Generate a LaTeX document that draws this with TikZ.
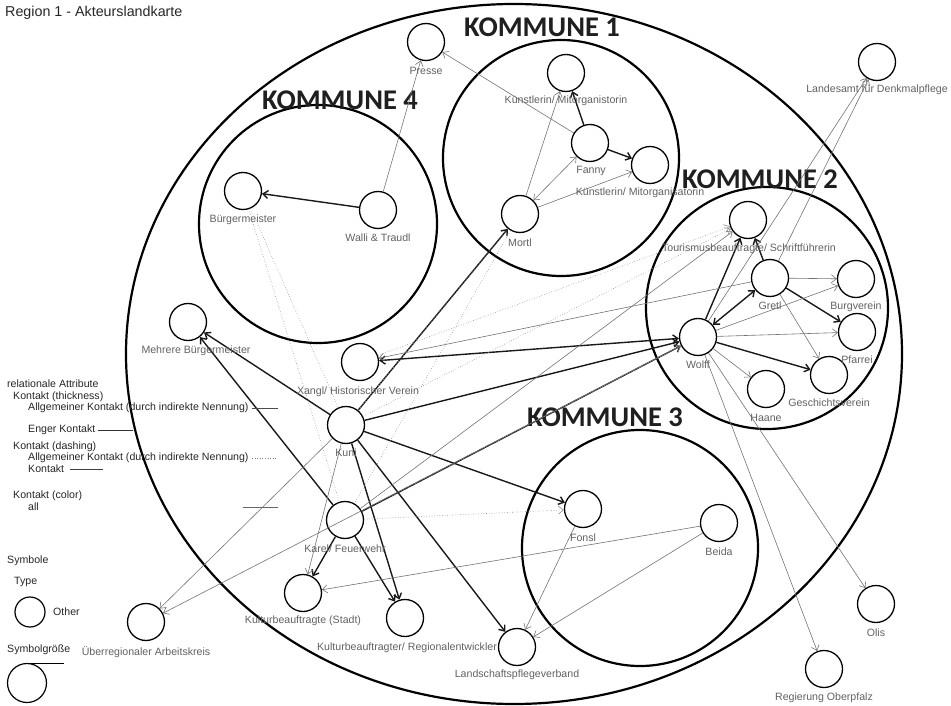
\documentclass[tikz,border=0pt]{standalone}
\usepackage{fontspec}
\setmainfont{Liberation Sans}
\newfontfamily\kommunefont{Carlito}
\usetikzlibrary{arrows.meta}
\begin{document}
\begin{tikzpicture}[x=1pt,y=-1pt,
  >={Straight Barb[length=5pt,width=8pt]},
  actor/.style={circle,draw=black,line width=1.3pt,minimum size=37pt,inner sep=0pt},
  lab/.style={text=black!62,font=\fontsize{10.6}{12}\selectfont,inner sep=0pt},
  leg/.style={text=black!85,font=\fontsize{10.6}{12}\selectfont,anchor=west,inner sep=0pt},
  area/.style={draw=black,line width=2.2pt},
  kname/.style={font=\kommunefont\bfseries\fontsize{28.5}{30}\selectfont,text=black!88,inner sep=0pt},
  strong/.style={->,line width=1.4pt,draw=black!90},
  weak/.style={->,line width=0.6pt,draw=black!55},
  hint/.style={->,line width=0.6pt,draw=black!45,dotted}
]
\useasboundingbox (0,0) rectangle (951,706);

% title
\node[anchor=west,inner sep=0pt,font=\fontsize{14.3}{16}\selectfont,text=black!85] (title) at (5,13) {Region 1 - Akteurslandkarte};

% region and municipalities
\draw[area] (514,354) ellipse [x radius=388, y radius=350];
\draw[area] (561,158) circle [radius=118];
\draw[area] (318,224) circle [radius=119];
\draw[area] (767,308) circle [radius=121];
\draw[area] (640,548) circle [radius=118];

\node[kname] (k1) at (542,27) {KOMMUNE 1};
\node[kname] (k4) at (340,100) {KOMMUNE 4};
\node[kname] (k2) at (760,179) {KOMMUNE 2};
\node[kname] (k3) at (605,417) {KOMMUNE 3};

% actors
\node[actor] (presse) at (426,42) {};
\node[actor] (kmt) at (566,73) {};
\node[actor] (fanny) at (590,143) {};
\node[actor] (kmr) at (650,165) {};
\node[actor] (mortl) at (520,214) {};
\node[actor] (buerg) at (243,191) {};
\node[actor] (walli) at (378,210) {};
\node[actor] (mehr) at (188,322) {};
\node[actor] (xangl) at (360,362) {};
\node[actor] (kuni) at (346,425) {};
\node[actor] (karel) at (345,520) {};
\node[actor] (kulturS) at (303,593) {};
\node[actor] (kulturR) at (405,618) {};
\node[actor] (lpv) at (517,647) {};
\node[actor] (fonsl) at (583,509) {};
\node[actor] (beida) at (719,523) {};
\node[actor] (olis) at (876,604) {};
\node[actor] (regierung) at (824,669) {};
\node[actor] (ueber) at (146,622) {};
\node[actor] (landesamt) at (877,62) {};
\node[actor] (tour) at (748,220) {};
\node[actor] (gretl) at (770,278) {};
\node[actor] (burg) at (856,279) {};
\node[actor] (pfarrei) at (857,332) {};
\node[actor] (wolff) at (698,337) {};
\node[actor] (gesch) at (829,375) {};
\node[actor] (haane) at (766,389) {};

% close contacts
\draw[strong] (fanny) -- (kmt);
\draw[strong] (fanny) -- (kmr);
\draw[strong] (walli) -- (buerg);
\draw[strong] (kuni) -- (mortl);
\draw[strong] (kuni) -- (mehr);
\draw[strong] (karel) -- (mehr);
\draw[strong] (kuni) -- (wolff);
\draw[strong] (karel) -- (wolff);
\draw[strong,<->] (xangl) -- (wolff);
\draw[strong] (kuni) -- (fonsl);
\draw[strong] (kuni) -- (lpv);
\draw[strong] (kuni) -- (kulturR);
\draw[strong] (karel) -- (kulturR);
\draw[strong] (karel) -- (kulturS);
\draw[strong] (wolff) -- (tour);
\draw[strong] (gretl) -- (tour);
\draw[strong,<->] (wolff) -- (gretl);
\draw[strong] (gretl) -- (pfarrei);
\draw[strong] (wolff) -- (gesch);

% general contacts
\draw[weak] (fanny) -- (presse);
\draw[weak] (walli) -- (presse);
\draw[weak] (mortl) -- (kmt);
\draw[weak,<->] (mortl) -- (fanny);
\draw[weak] (mortl) -- (kmr);
\draw[weak] (kuni) -- (kulturS);
\draw[weak] (beida) -- (kulturS);
\draw[weak] (beida) -- (lpv);
\draw[weak] (fonsl) -- (lpv);
\draw[weak] (wolff) -- (ueber);
\draw[weak] (kuni) -- (ueber);
\draw[weak] (wolff) -- (olis);
\draw[weak] (wolff) -- (regierung);
\draw[weak] (wolff) -- (landesamt);
\draw[weak] (gretl) -- (landesamt);
\draw[weak] (gretl) -- (xangl);
\draw[weak] (gretl) -- (burg);
\draw[weak] (gretl) -- (gesch);
\draw[weak] (wolff) -- (burg);
\draw[weak] (wolff) -- (pfarrei);
\draw[weak] (wolff) -- (haane);
\draw[weak] (karel) -- (tour);

% indirect mentions
\draw[hint,-] (buerg) -- (kuni);
\draw[hint,-] (buerg) -- (karel);
\draw[hint,-] (mortl) -- (kuni);
\draw[hint,-] (mortl) -- (karel);
\draw[hint] (kuni) -- (tour);
\draw[hint] (xangl) -- (tour);
\draw[hint] (karel) -- (fonsl);
\draw[hint] (karel) -- (wolff);

% actor names
\node[lab] (l-presse) at (426,71) {Presse};
\node[lab] (l-kmt) at (566,101) {Künstlerin/ Mitorganistorin};
\node[lab] (l-fanny) at (591,171) {Fanny};
\node[lab] (l-kmr) at (640,193) {Künstlerin/ Mitorganisatorin};
\node[lab] (l-mortl) at (520,243) {Mortl};
\node[lab] (l-buerg) at (243,220) {Bürgermeister};
\node[lab] (l-walli) at (378,238) {Walli \& Traudl};
\node[lab] (l-mehr) at (196,351) {Mehrere Bürgermeister};
\node[lab] (l-xangl) at (358,392) {Xangl/ Historischer Verein};
\node[lab] (l-kuni) at (346,453) {Kuni};
\node[lab] (l-karel) at (345,549) {Karel/ Feuerwehr};
\node[lab] (l-kulturS) at (303,621) {Kulturbeauftragte (Stadt)};
\node[lab] (l-kulturR) at (407,648) {Kulturbeauftragter/ Regionalentwickler};
\node[lab] (l-lpv) at (517,675) {Landschaftspflegeverband};
\node[lab] (l-fonsl) at (583,538) {Fonsl};
\node[lab] (l-beida) at (719,552) {Beida};
\node[lab] (l-olis) at (876,633) {Olis};
\node[lab] (l-regierung) at (824,698) {Regierung Oberpfalz};
\node[lab] (l-ueber) at (146,652) {Überregionaler Arbeitskreis};
\node[lab] (l-landesamt) at (877,90) {Landesamt für Denkmalpflege};
\node[lab] (l-tour) at (749,249) {Tourismusbeauftragte/ Schriftführerin};
\node[lab] (l-gretl) at (770,306) {Gretl};
\node[lab] (l-burg) at (856,307) {Burgverein};
\node[lab] (l-pfarrei) at (857,360) {Pfarrei};
\node[lab] (l-wolff) at (698,365) {Wolff};
\node[lab] (l-gesch) at (829,403) {Geschichtsverein};
\node[lab] (l-haane) at (766,418) {Haane};

% legend
\node[leg] (g1) at (7,384) {relationale Attribute};
\node[leg] (g2) at (13,397) {Kontakt (thickness)};
\node[leg] (g3) at (28,408) {Allgemeiner Kontakt (durch indirekte Nennung)};
\draw[line width=0.6pt,black!70] (252,408) -- (278,408);
\node[leg] (g4) at (28,430) {Enger Kontakt};
\draw[line width=0.9pt,black!80] (98,430) -- (133,430);
\node[leg] (g5) at (13,447) {Kontakt (dashing)};
\node[leg] (g6) at (28,458) {Allgemeiner Kontakt (durch indirekte Nennung)};
\draw[line width=0.6pt,black!50,dotted] (252,458) -- (277,458);
\node[leg] (g7) at (28,469) {Kontakt};
\draw[line width=0.8pt,black!75] (70,469) -- (103,469);
\node[leg] (g8) at (13,496) {Kontakt (color)};
\node[leg] (g9) at (28,507) {all};
\draw[line width=0.8pt,black!60] (243,507) -- (278,507);
\node[leg] (g10) at (7,561) {Symbole};
\node[leg] (g11) at (14,582) {Type};
\node[circle,draw=black,line width=1.2pt,minimum size=30pt,inner sep=0pt] (gtype) at (30,612) {};
\node[leg] (g12) at (53,612) {Other};
\node[leg] (g13) at (7,650) {Symbolgröße};
\node[circle,draw=black,line width=1.2pt,minimum size=39pt,inner sep=0pt] (gsize) at (27,683) {};
\draw[line width=1pt,black] (25,663) -- (64,663);
\end{tikzpicture}
\end{document}
